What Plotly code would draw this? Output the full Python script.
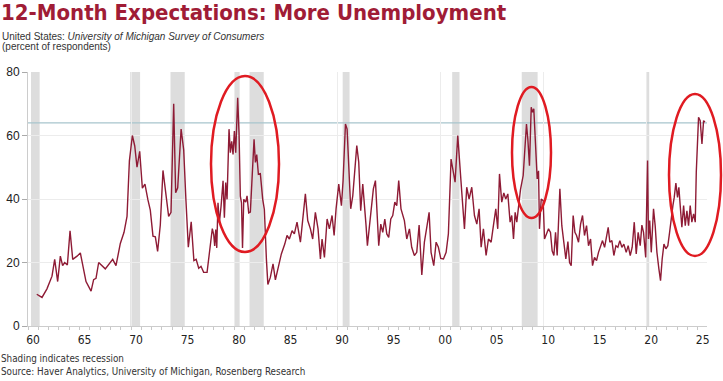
import plotly.graph_objects as go

# ---- data ----
years = [
    1960.85, 1961.36, 1961.84, 1962.33, 1962.59, 1962.88, 1963.14, 1963.36, 1963.56, 1963.82,
    1964.08, 1964.34, 1964.76, 1965.08, 1965.63, 1965.82, 1966.12, 1966.37, 1966.6, 1966.86,
    1967.5, 1968.22, 1968.54, 1968.96, 1969.32, 1969.61, 1969.84, 1970.13, 1970.36, 1970.58,
    1970.84, 1971.1, 1971.35, 1971.64, 1971.87, 1972.13, 1972.36, 1972.58, 1972.84, 1973.1,
    1973.39, 1973.65, 1973.88, 1974.14, 1974.33, 1974.53, 1974.86, 1975.11, 1975.33, 1975.56,
    1975.84, 1976.1, 1976.32, 1976.57, 1976.79, 1977.05, 1977.38, 1977.63, 1977.89, 1978.02,
    1978.12, 1978.22, 1978.32, 1978.44, 1978.57, 1978.74, 1978.93, 1979.06, 1979.19, 1979.32,
    1979.51, 1979.64, 1979.77, 1979.9, 1980.03, 1980.16, 1980.35, 1980.48, 1980.61, 1980.72,
    1980.82, 1980.94, 1981.13, 1981.26, 1981.42, 1981.58, 1981.78, 1981.94, 1982.07, 1982.2,
    1982.36, 1982.55, 1982.78, 1982.94, 1983.14, 1983.28, 1983.52, 1983.78, 1984.01, 1984.33,
    1984.59, 1984.92, 1985.14, 1985.37, 1985.63, 1985.85, 1986.11, 1986.44, 1986.66, 1986.92,
    1987.15, 1987.41, 1987.63, 1987.89, 1988.15, 1988.38, 1988.54, 1988.77, 1989.03, 1989.25,
    1989.51, 1989.71, 1989.9, 1990.16, 1990.42, 1990.58, 1990.81, 1990.97, 1991.13, 1991.32,
    1991.52, 1991.71, 1991.91, 1992.1, 1992.29, 1992.49, 1992.62, 1992.81, 1992.94, 1993.14,
    1993.33, 1993.52, 1993.72, 1993.88, 1994.04, 1994.24, 1994.43, 1994.63, 1994.82, 1995.01,
    1995.21, 1995.4, 1995.6, 1995.79, 1995.98, 1996.2, 1996.53, 1996.76, 1997.02, 1997.24,
    1997.5, 1997.73, 1997.96, 1998.22, 1998.47, 1998.73, 1998.93, 1999.12, 1999.38, 1999.61,
    1999.83, 2000.06, 2000.32, 2000.58, 2000.8, 2001.06, 2001.29, 2001.45, 2001.71, 2001.9,
    2002.1, 2002.36, 2002.58, 2002.81, 2003.07, 2003.33, 2003.56, 2003.78, 2003.98, 2004.2,
    2004.46, 2004.69, 2004.95, 2005.17, 2005.4, 2005.59, 2005.76, 2005.98, 2006.18, 2006.37,
    2006.57, 2006.79, 2006.95, 2007.12, 2007.28, 2007.44, 2007.6, 2007.8, 2008.06, 2008.25,
    2008.38, 2008.51, 2008.67, 2008.84, 2008.97, 2009.09, 2009.26, 2009.42, 2009.55, 2009.64,
    2009.81, 2010.0, 2010.13, 2010.32, 2010.52, 2010.71, 2010.87, 2011.04, 2011.2, 2011.36,
    2011.62, 2011.81, 2012.01, 2012.2, 2012.4, 2012.56, 2012.72, 2012.91, 2013.08, 2013.24,
    2013.43, 2013.63, 2013.82, 2014.01, 2014.21, 2014.4, 2014.6, 2014.79, 2014.98, 2015.18,
    2015.37, 2015.57, 2015.76, 2015.96, 2016.15, 2016.31, 2016.47, 2016.67, 2016.86, 2017.06,
    2017.25, 2017.44, 2017.64, 2017.83, 2018.06, 2018.25, 2018.45, 2018.64, 2018.84, 2019.03,
    2019.22, 2019.42, 2019.58, 2019.74, 2019.95, 2020.13, 2020.22, 2020.34, 2020.49, 2020.71,
    2020.87, 2021.04, 2021.23, 2021.39, 2021.55, 2021.72, 2021.91, 2022.1, 2022.27, 2022.43,
    2022.59, 2022.72, 2022.88, 2023.04, 2023.17, 2023.3, 2023.46, 2023.63, 2023.79, 2023.95,
    2024.11, 2024.27, 2024.43, 2024.6, 2024.76, 2024.86, 2024.98, 2025.08, 2025.24, 2025.41,
    2025.57, 2025.7,
]
values = [
    10, 9, 11.7, 15.7, 21, 14, 22, 19, 20, 19.2,
    30, 21, 22, 23, 14, 13, 11, 14.6, 15, 20,
    18, 21, 19, 26, 29.5, 34.5, 52, 60, 56.7, 50,
    55, 43.4, 44.7, 39.7, 36.5, 28.3, 28.1, 23.5, 31.8, 49,
    40.5, 34.5, 35.8, 70, 42, 43.5, 62, 55.5, 39.5, 24.8,
    32.8, 20.6, 21, 18.2, 18.8, 16.9, 16.9, 23.8, 30.7, 28.8,
    25.2, 30.4, 24.6, 38.8, 32.5, 37.8, 45.7, 34.1, 45.2, 39.9,
    62, 54.6, 58.2, 54, 61.4, 54.6, 71.9, 60.9, 40.9, 38.8,
    24.6, 39.9, 39, 41, 35.6, 35.9, 49.3, 58.8, 51.5, 54,
    47.8, 48, 39.9, 36.7, 20.9, 13.1, 15.3, 19.6, 14.5, 19,
    22.7, 25.8, 28.5, 27.4, 30, 29, 32.7, 26.4, 32.7, 41.6,
    33.2, 30.6, 27.4, 35.8, 30.6, 21.1, 27.4, 21.6, 33.7, 30.6,
    34.8, 28.5, 36.9, 44.7, 37.9, 45.8, 63.6, 62, 50.5, 36.9,
    41, 48.4, 56.8, 51.6, 36.3, 44.7, 37.9, 31.6, 25.3, 31.6,
    36.9, 43.2, 45.8, 35.8, 25.3, 32.1, 29.5, 33.7, 29, 27.9,
    33.7, 34.8, 39, 37.9, 45.8, 36.9, 33.2, 27.4, 30.6, 24.8,
    22.2, 23.2, 31.8, 16.1, 26.4, 31.6, 35.8, 23.2, 19, 26.4,
    24.8, 21.3, 21.1, 23.2, 29, 52.6, 48.4, 45.3, 60, 52.6,
    42.1, 30.6, 43.7, 40, 43.7, 34.8, 32.1, 36.9, 24.8, 30.6,
    22.2, 27.4, 26.4, 31.6, 36.9, 30.6, 47.9, 39, 41.9, 40,
    41.6, 32.7, 34.8, 27.4, 35.8, 32.7, 37.9, 43, 47.4, 59.4,
    63.6, 58.9, 50.5, 68.9, 67.3, 68.4, 58.9, 46.3, 48.9, 30.6,
    40, 39.5, 27.4, 29, 30.6, 29.5, 23.7, 22.2, 29.5, 22.2,
    43.2, 31.6, 25.3, 21.1, 26.6, 20, 19, 34.8, 29.5, 28.5,
    26.4, 32.1, 34.8, 28.5, 31.6, 25.3, 27.4, 19, 21.6, 20.6,
    23.2, 25.3, 26.9, 24.8, 27.9, 31.1, 26.4, 26.9, 22.2, 25.3,
    24.8, 26.9, 24.8, 25.8, 23.2, 25.3, 22.2, 24.8, 32.7, 22.7,
    29.5, 25.3, 31.8, 29.5, 21.6, 52.1, 27.4, 33.2, 23.2, 36.9,
    31.6, 23.2, 18, 14.3, 21.1, 25.8, 24.3, 25.3, 29.5, 34.2,
    37.9, 40.5, 45, 40.5, 43.7, 37.9, 31.1, 37.9, 31.6, 36.3,
    31.6, 37.9, 32.7, 35.3, 32.7, 48.4, 61, 65.7, 64.7, 57.3,
    64.7, 64.2,
]

recession_start = [1960.29, 1969.92, 1973.83, 1980.0, 1981.5, 1990.54, 2001.17, 2007.92, 2020.08]
recession_end = [1961.13, 1970.88, 1975.21, 1980.54, 1982.88, 1991.21, 2001.88, 2009.46, 2020.29]
reference_level = 64

tick_years = list(range(1960, 2026))
label_map = {1960: "60", 1965: "65", 1970: "70", 1975: "75", 1980: "80", 1985: "85",
             1990: "90", 1995: "95", 2000: "00", 2005: "05", 2010: "10", 2015: "15",
             2020: "20", 2025: "25"}
tick_text = [label_map.get(y, "") for y in tick_years]
decades = [1960, 1970, 1980, 1990, 2000, 2010, 2020]
y_ticks = [0, 20, 40, 60, 80]

# ---- layout geometry ----
W, H = 723, 381
L, R, T, B = 28, 16, 72, 55
PW, PH = W - L - R, H - T - B


def px(xp):
    return (xp - L) / PW


def py(yp):
    return (H - B - yp) / PH


COND = "DejaVu Sans Condensed, DejaVu Sans, sans-serif"
SANS = "Liberation Sans, Arial, sans-serif"
LINE_RED = "#8e1b35"
TITLE_RED = "#a01c36"

fig = go.Figure()
fig.add_trace(go.Scatter(x=years, y=values, mode="lines",
                         line=dict(color=LINE_RED, width=1.4), hoverinfo="skip",
                         showlegend=False))

for s, e in zip(recession_start, recession_end):
    fig.add_vrect(x0=s, x1=e, fillcolor="#dddddd", opacity=1, line_width=0, layer="below")

fig.add_hline(y=reference_level, line=dict(color="#a7c5cd", width=1.2), layer="below")

ellipses = [(211, 279, 76, 252), (512, 551, 87, 218), (669, 721, 94, 256)]
for x0, x1, y0, y1 in ellipses:
    fig.add_shape(type="circle", xref="paper", yref="paper",
                  x0=px(x0), x1=px(x1), y0=py(y1), y1=py(y0),
                  line=dict(color="#e01b22", width=2.5), layer="above")

fig.update_layout(
    width=W, height=H,
    margin=dict(l=L, r=R, t=T, b=B, pad=0, autoexpand=False),
    paper_bgcolor="white", plot_bgcolor="white",
    title=dict(text="<b>12-Month Expectations: More Unemployment</b>",
               x=1 / W, xanchor="left", xref="container",
               y=1 - 12 / H, yanchor="middle", yref="container",
               font=dict(family=COND, size=22, color=TITLE_RED)),
    xaxis=dict(range=[1960, 2025.9], tickmode="array", tickvals=tick_years, ticktext=tick_text,
               ticks="outside", ticklen=3, tickcolor="#c8c8c8", ticklabelshift=5,
               showgrid=False, zeroline=False, showline=True, linecolor="#cccccc",
               tickfont=dict(family=COND, size=12, color="#222"),
               minor=dict(tickmode="array", tickvals=decades, showgrid=True,
                          gridcolor="#ececec", ticks=""),
               automargin=False, fixedrange=True),
    yaxis=dict(range=[0, 80], tickmode="array", tickvals=y_ticks,
               ticks="outside", ticklen=5, tickcolor="#aaaaaa",
               showgrid=True, gridcolor="#ececec", zeroline=False,
               showline=True, linecolor="#cccccc",
               tickfont=dict(family=SANS, size=12, color="#222"),
               automargin=False, fixedrange=True),
    annotations=[
        dict(text="United States: <i>University of Michigan Survey of Consumers</i>",
             xref="paper", yref="paper", x=px(0), y=py(36), xanchor="left", yanchor="middle",
             showarrow=False, font=dict(family=SANS, size=10, color="#333")),
        dict(text="(percent of respondents)",
             xref="paper", yref="paper", x=px(0), y=py(47), xanchor="left", yanchor="middle",
             showarrow=False, font=dict(family=SANS, size=10, color="#333")),
        dict(text="Shading indicates recession",
             xref="paper", yref="paper", x=px(-1), y=py(358), xanchor="left", yanchor="middle",
             showarrow=False, font=dict(family=COND, size=9.8, color="#333")),
        dict(text="Source: Haver Analytics, University of Michigan, Rosenberg Research",
             xref="paper", yref="paper", x=px(-1), y=py(371), xanchor="left", yanchor="middle",
             showarrow=False, font=dict(family=COND, size=9.8, color="#333")),
    ],
)

fig.write_html("out.html", post_script="document.body.style.margin='0';",
               config={"displayModeBar": False})
